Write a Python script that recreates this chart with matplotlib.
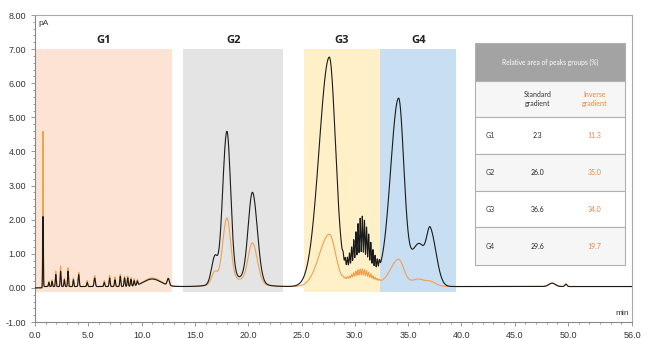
import numpy as np
import matplotlib
matplotlib.use("Agg")
import matplotlib.pyplot as plt
from matplotlib.patches import Rectangle
from matplotlib.ticker import MultipleLocator

# ---------------- data ----------------
# peak tables: centre (min), height (pA), left width, right width
black_pos = [0.75, 1.3, 1.6, 1.95, 2.4, 2.75, 3.1, 3.6, 4.1, 4.9, 5.6, 6.5, 7.0, 7.5, 8.0, 8.4, 8.7, 9.0, 9.3, 9.6,
             11.0, 12.5, 16.85, 18.0, 19.0, 20.4, 27.6, 30.5, 34.1, 36.0, 37.1, 48.5, 49.8]
black_h = [2.05, 0.12, 0.15, 0.35, 0.45, 0.2, 0.45, 0.2, 0.35, 0.12, 0.25, 0.12, 0.25, 0.2, 0.3, 0.25, 0.25, 0.2, 0.15, 0.12,
           0.22, 0.2, 0.75, 4.35, 0.25, 2.6, 6.65, 0.65, 5.45, 1.25, 1.5, 0.1, 0.07]
black_wl = [0.03, 0.04, 0.04, 0.04, 0.04, 0.04, 0.04, 0.04, 0.05, 0.05, 0.06, 0.05, 0.05, 0.05, 0.05, 0.05, 0.05, 0.05, 0.05, 0.05,
            0.8, 0.1, 0.3, 0.4, 1.5, 0.4, 0.95, 1.4, 0.75, 0.75, 0.35, 0.3, 0.1]
black_wr = [0.03, 0.04, 0.04, 0.04, 0.04, 0.04, 0.04, 0.04, 0.05, 0.05, 0.06, 0.05, 0.05, 0.05, 0.05, 0.05, 0.05, 0.05, 0.05, 0.05,
            0.8, 0.1, 0.25, 0.35, 1.5, 0.45, 0.58, 1.4, 0.5, 0.6, 0.55, 0.3, 0.1]

orange_pos = black_pos
orange_h = [4.55, 0.15, 0.2, 0.45, 0.6, 0.25, 0.55, 0.25, 0.42, 0.18, 0.32, 0.18, 0.33, 0.28, 0.35, 0.3, 0.3, 0.25, 0.2, 0.15,
            0.25, 0.2, 0.35, 1.85, 0.2, 1.15, 1.5, 0.28, 0.78, 0.22, 0.12, 0.1, 0.07]
orange_wl = black_wl
orange_wr = black_wr

# fine ripple comb in G3
ripple_pos = [28.9, 29.1, 29.3, 29.5, 29.7, 29.9, 30.1, 30.3, 30.5, 30.7, 30.9, 31.1, 31.3, 31.5, 31.7, 31.9, 32.1, 32.3]
ripple_black = [0.15, 0.22, 0.32, 0.45, 0.6, 0.78, 0.98, 1.2, 1.35, 1.42, 1.32, 1.15, 0.98, 0.78, 0.6, 0.45, 0.32, 0.2]
ripple_orange = [0.04, 0.05, 0.07, 0.09, 0.12, 0.15, 0.18, 0.21, 0.23, 0.24, 0.23, 0.21, 0.18, 0.15, 0.12, 0.09, 0.07, 0.05]
ripple_w = 0.05
baseline = 0.04

# groups: name, start, end, colour
groups = ["G1", "G2", "G3", "G4"]
group_start = [0.0, 13.9, 25.2, 32.4]
group_end = [12.85, 23.3, 32.4, 39.5]
group_col = ["#fde3d3", "#e4e4e4", "#fff0c8", "#c8def2"]

# table
table_title = "Relative area of peaks groups (%)"
col_labels = ["Standard\ngradient", "Inverse\ngradient"]
standard = ["2.3", "26.0", "36.6", "29.6"]
inverse = ["11.3", "35.0", "34.0", "19.7"]

ORANGE = "#f0a050"
TAB_ORANGE = "#e8854a"

# ---------------- build traces ----------------
t = np.linspace(0, 56, 11201)


def trace(pos, h, wl, wr, rpos, rh, rw):
    y = np.full_like(t, baseline)
    y[t < 0.7] = 0.0
    for c, a, sl, sr in zip(pos, h, wl, wr):
        s = np.where(t < c, sl, sr)
        y += a * np.exp(-0.5 * ((t - c) / s) ** 2)
    for c, a in zip(rpos, rh):
        y += a * np.exp(-0.5 * ((t - c) / rw) ** 2)
    return y


yb = trace(black_pos, black_h, black_wl, black_wr, ripple_pos, ripple_black, ripple_w)
yo = trace(orange_pos, orange_h, orange_wl, orange_wr, ripple_pos, ripple_orange, ripple_w)

# ---------------- figure ----------------
fig = plt.figure(figsize=(6.5, 3.39), dpi=100)
ax = fig.add_axes([35 / 650, 17 / 339, 597 / 650, 307 / 339])
ax.set_xlim(0, 56)
ax.set_ylim(-1, 8)

for g, a, b, c in zip(groups, group_start, group_end, group_col):
    ax.add_patch(Rectangle((a, -0.12), b - a, 7.12, facecolor=c, edgecolor="none", zorder=0))
    ax.text((a + b) / 2, 7.1, g, ha="center", va="bottom", fontsize=8, fontweight="bold",
            family="Open Sans", color="#222222")

ax.plot(t, yo, color=ORANGE, lw=0.8, zorder=2)
ax.plot(t, yb, color="#1a1a1a", lw=0.8, zorder=3)

xt = [0, 5, 10, 15, 20, 25, 30, 35, 40, 45, 50, 56]
ax.set_xticks(xt)
ax.set_xticklabels([f"{v:.1f}" for v in xt])
ax.xaxis.set_minor_locator(MultipleLocator(1))
yt = np.arange(-1, 9, 1)
ax.set_yticks(yt)
ax.set_yticklabels([f"{v:.2f}" for v in yt])
ax.yaxis.set_minor_locator(MultipleLocator(0.2))
ax.tick_params(which="both", direction="out", colors="#888888", labelcolor="#333333",
               labelsize=6.5, width=0.6)
ax.tick_params(which="major", length=3)
ax.tick_params(which="minor", length=1.5)
for lab in ax.get_xticklabels() + ax.get_yticklabels():
    lab.set_family("Liberation Sans")
for sp in ax.spines.values():
    sp.set_color("#aaaaaa")
    sp.set_linewidth(0.8)
ax.spines["left"].set_color("#888888")
ax.spines["bottom"].set_color("#888888")

ax.text(0.006, 0.985, "pA", transform=ax.transAxes, ha="left", va="top", fontsize=6,
        color="#333333", family="Liberation Sans")
ax.text(0.995, 0.015, "min", transform=ax.transAxes, ha="right", va="bottom", fontsize=6,
        color="#333333", family="Liberation Sans")

# ---------------- table (axes fraction) ----------------
tx0, tx1 = 0.737, 0.988
edges = [0.909, 0.785, 0.668, 0.547, 0.427, 0.309, 0.186]
row_face = ["#a3a3a3", "#f6f6f6", "#ffffff", "#f6f6f6", "#ffffff", "#f6f6f6"]
for i in range(6):
    top, bot = edges[i], edges[i + 1]
    ax.add_patch(Rectangle((tx0, bot), tx1 - tx0, top - bot, transform=ax.transAxes,
                           facecolor=row_face[i], edgecolor="#b0b0b0", lw=0.8, zorder=5))
tf = "Lato"
ax.text((tx0 + tx1) / 2, (edges[0] + edges[1]) / 2, table_title, transform=ax.transAxes,
        ha="center", va="center", fontsize=4.8, color="white", family=tf, zorder=6)
cx = [0.762, 0.842, 0.937]
for j, lab in enumerate(col_labels):
    ax.text(cx[j + 1], (edges[1] + edges[2]) / 2, lab, transform=ax.transAxes, ha="center",
            va="center", fontsize=5, color=["#333333", TAB_ORANGE][j], family=tf, zorder=6,
            linespacing=1.2)
for i, g in enumerate(groups):
    yc = (edges[i + 2] + edges[i + 3]) / 2
    ax.text(cx[0], yc, g, transform=ax.transAxes, ha="center", va="center", fontsize=5,
            color="#333333", family=tf, zorder=6)
    ax.text(cx[1], yc, standard[i], transform=ax.transAxes, ha="center", va="center",
            fontsize=5, color="#222222", family=tf, zorder=6)
    ax.text(cx[2], yc, inverse[i], transform=ax.transAxes, ha="center", va="center",
            fontsize=5, color=TAB_ORANGE, family=tf, zorder=6)

fig.savefig("out.png", dpi=100)
